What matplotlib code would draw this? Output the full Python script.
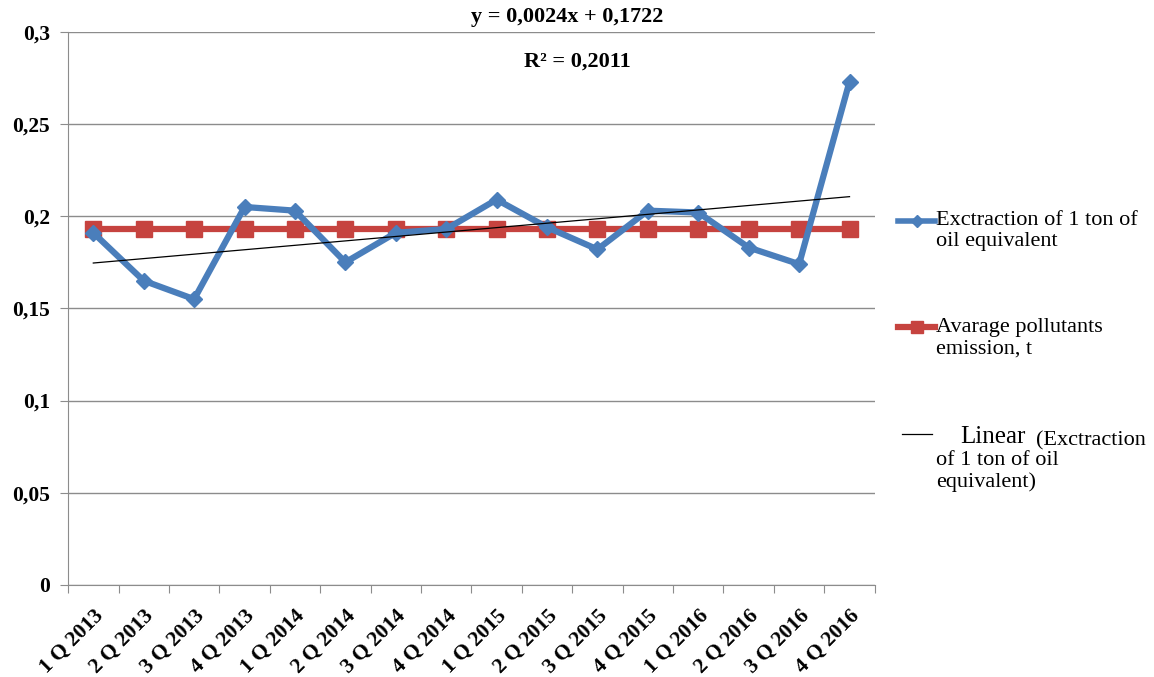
import matplotlib

matplotlib.use("agg")
import matplotlib.pyplot as plt
import numpy as np
from matplotlib.lines import Line2D
from matplotlib.ticker import FuncFormatter, MultipleLocator

# quarters on the x axis
quarters = [
    "1 Q 2013", "2 Q 2013", "3 Q 2013", "4 Q 2013",
    "1 Q 2014", "2 Q 2014", "3 Q 2014", "4 Q 2014",
    "1 Q 2015", "2 Q 2015", "3 Q 2015", "4 Q 2015",
    "1 Q 2016", "2 Q 2016", "3 Q 2016", "4 Q 2016",
]

# extraction of 1 ton of oil equivalent
extraction = [
    0.191, 0.165, 0.155, 0.205,
    0.203, 0.175, 0.191, 0.193,
    0.209, 0.194, 0.182, 0.203,
    0.202, 0.183, 0.174, 0.273,
]

# average pollutants emission, t
emission = [0.193] * 16

# trend line as reported in the chart
trend_slope = 0.0024
trend_intercept = 0.1722

blue = "#4A7EBB"
red = "#C6433F"
grid_grey = "#8c8c8c"
serif = ["Liberation Serif", "DejaVu Serif"]

plt.rcParams["font.family"] = serif

fig = plt.figure(figsize=(11.54, 6.77), dpi=100)
ax = fig.add_axes([0.059, 0.136, 0.699, 0.817])

x = np.arange(1, len(quarters) + 1)
trend = trend_slope * x + trend_intercept

ax.plot(x, emission, color=red, lw=4.5, marker="s", ms=11.5, zorder=3)
ax.plot(x, extraction, color=blue, lw=4.5, marker="D", ms=8, zorder=4)
ax.plot(x, trend, color="black", lw=0.9, zorder=5)

ax.set_xlim(0.5, len(quarters) + 0.5)
ax.set_ylim(0, 0.3)
ax.yaxis.set_major_locator(MultipleLocator(0.05))
ax.yaxis.set_major_formatter(
    FuncFormatter(lambda v, p: "0" if v == 0 else f"{v:.2f}".rstrip("0").replace(".", ","))
)
ax.grid(axis="y", color=grid_grey, lw=1)
ax.set_axisbelow(True)

for s in ["top", "right"]:
    ax.spines[s].set_visible(False)
ax.spines["left"].set_color(grid_grey)
ax.spines["bottom"].set_color(grid_grey)

# ticks on category boundaries, labels at centres
ax.set_xticks(np.arange(0.5, len(quarters) + 1, 1))
ax.set_xticklabels([])
ax.set_xticks(x, minor=True)
ax.set_xticklabels(quarters, minor=True, rotation=45, ha="right", va="top",
                   rotation_mode="anchor", fontsize=15.5, fontweight="bold")
ax.tick_params(axis="x", which="major", length=6, color=grid_grey)
ax.tick_params(axis="x", which="minor", length=0, pad=15)
ax.tick_params(axis="y", length=6, color=grid_grey, labelsize=15.5, pad=7)
for lab in ax.get_yticklabels():
    lab.set_fontweight("bold")


def fx(px):
    return px / 1154


def fy(py):
    return 1 - py / 677


fig.text(fx(567), fy(17), "y = 0,0024x + 0,1722", ha="center", va="center",
         fontsize=16, fontweight="bold")
fig.text(fx(577), fy(62), "R² = 0,2011", ha="center", va="center",
         fontsize=16, fontweight="bold")

# legend drawn by hand so the handles sit on the first text line
fig.add_artist(Line2D([fx(898), fx(917), fx(935)], [fy(221)] * 3, color=blue, lw=4,
                      marker="D", ms=6, markevery=[1], transform=fig.transFigure))
fig.add_artist(Line2D([fx(898), fx(917), fx(935)], [fy(327)] * 3, color=red, lw=4.5,
                      marker="s", ms=9, markevery=[1], transform=fig.transFigure))
fig.add_artist(Line2D([fx(902), fx(932)], [fy(434)] * 2, color="black", lw=0.9,
                      transform=fig.transFigure))

fig.text(fx(936), fy(211), "Exctraction of 1 ton of\noil equivalent", ha="left",
         va="top", fontsize=16, linespacing=1.15)
fig.text(fx(936), fy(318), "Avarage pollutants\nemission, t", ha="left",
         va="top", fontsize=16, linespacing=1.15)
fig.text(fx(960), fy(443), "Linear", ha="left", va="baseline", fontsize=18)
fig.text(fx(1036), fy(445), "(Exctraction", ha="left", va="baseline", fontsize=16)
fig.text(fx(936), fy(451), "of 1 ton of oil\nequivalent)", ha="left", va="top",
         fontsize=16, linespacing=1.15)

fig.savefig("out.png", dpi=100, facecolor="white")
